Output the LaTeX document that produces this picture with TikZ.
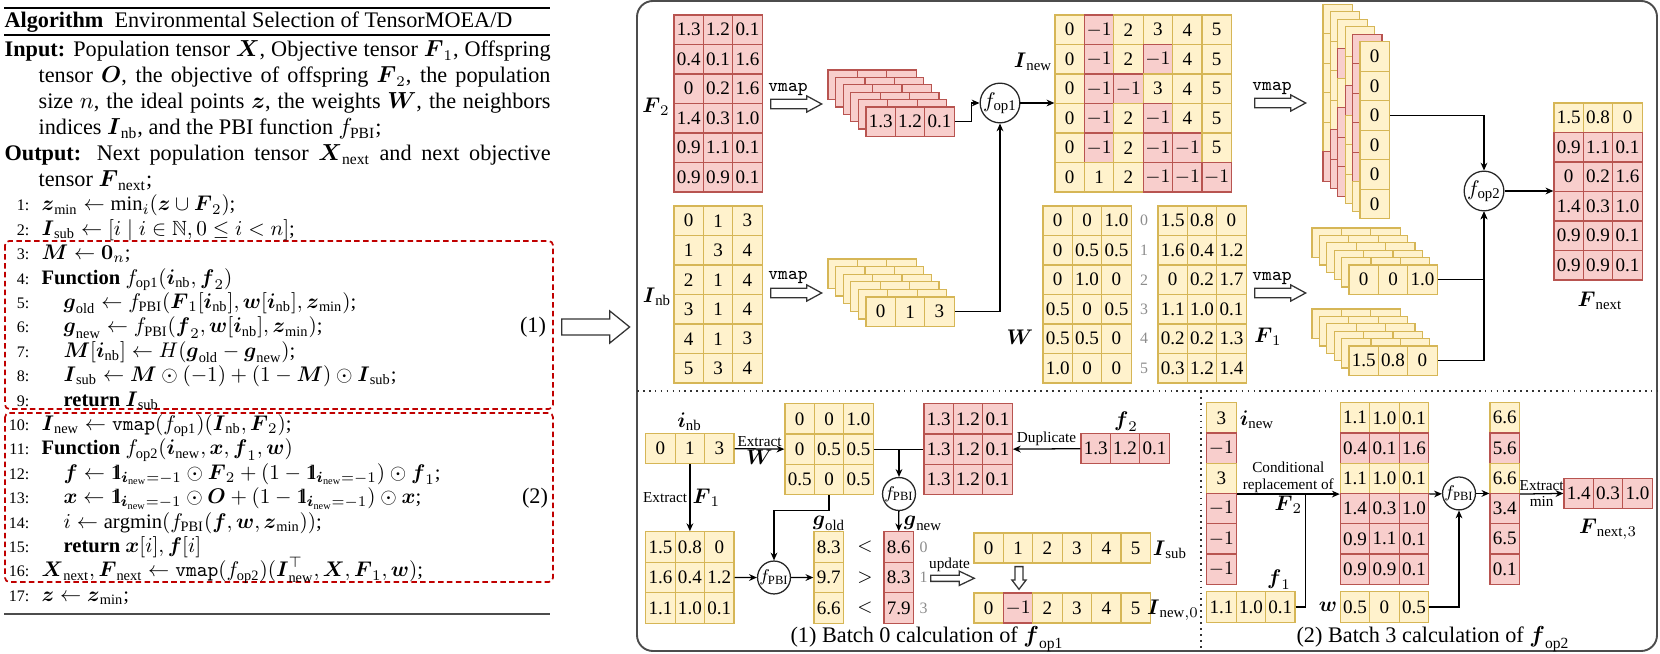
\documentclass[tikz,border=0pt]{standalone}
\usepackage{amsmath}
\usepackage{amssymb}
\usepackage{fontspec}
\setmainfont{Liberation Serif}
\IfFileExists{dsfont.sty}{\usepackage{dsfont}\newcommand{\indone}{\mathds{1}}}{\newcommand{\indone}{\mathrm{1\kern-0.28em l}}}
\usetikzlibrary{shapes.arrows,arrows.meta,calc}

\definecolor{yfill}{HTML}{FFF2CC}
\definecolor{yline}{HTML}{D6B656}
\definecolor{pfill}{HTML}{F8CECC}
\definecolor{pline}{HTML}{B85450}
\definecolor{boxred}{HTML}{C00000}

\tikzset{
  cell/.style={draw=#1line, fill=#1fill, line width=0.6pt, minimum width=13.89pt,
    inner sep=0pt, font=\fontsize{9}{10}\selectfont},
  op/.style={circle, draw=black!85, fill=white, line width=0.6pt, inner sep=0pt},
  hollow/.style={single arrow, draw=black!80, fill=white, line width=0.6pt,
    inner xsep=0pt, anchor=tail},
  lbl/.style={font=\fontsize{7.2}{8}\selectfont, inner sep=1pt},
  mlbl/.style={font=\fontsize{10}{11}\selectfont, inner sep=1pt},
  vm/.style={font=\ttfamily\fontsize{8.8}{10}\selectfont, inner sep=0pt},
  idx/.style={font=\fontsize{7.5}{9}\selectfont, text=black!45, inner sep=0pt},
  capt/.style={font=\fontsize{10.5}{12}\selectfont, inner sep=0pt},
  hdr/.style={font=\fontsize{10.5}{12}\selectfont, anchor=base west, inner sep=0pt},
  alg/.style={font=\fontsize{9.7}{11}\selectfont, anchor=base west, inner sep=0pt},
  num/.style={font=\fontsize{7.6}{9}\selectfont, anchor=base east, inner sep=0pt},
}

% matrix of cells: [cell height]{name}{left}{top}{rows of colour/value}
\newcommand{\tmat}[5][29.5]{%
  \foreach \row [count=\i from 0] in {#5}{%
    \foreach \c/\v [count=\j from 0] in \row{%
      \node[cell=\c, minimum height=#1*0.4723pt] (#2-\i-\j) at (#3+\j*29.4+14.7, #4+\i*#1+#1/2) {\v};
    }
  }
}

\begin{document}
\begin{tikzpicture}[x=0.4723pt, y=-0.4723pt, line width=0.6pt,
  >={Stealth[length=3.7pt,width=3.2pt]}]
\useasboundingbox (0,0) rectangle (1660,654);

%% algorithm
\draw[line width=0.8pt] (4,8) -- (550,8);
\draw[line width=0.5pt] (4,35) -- (550,35);
\draw[line width=0.8pt, black!70] (4,614) -- (550,614);
\draw[boxred, dashed, dash pattern=on 2.6pt off 1.6pt, line width=0.8pt, rounded corners=2pt]
  (5,241) rectangle (553,409);
\draw[boxred, dashed, dash pattern=on 2.6pt off 1.6pt, line width=0.8pt, rounded corners=2pt]
  (5,413) rectangle (553,582);

\node[hdr] (a0) at (4,28) {\textbf{Algorithm}\ \ Environmental Selection of TensorMOEA/D};
\node[hdr] (in1) at (4,57) {\makebox[257.9pt][s]{\textbf{Input:} Population tensor $\boldsymbol{X}$, Objective tensor $\boldsymbol{F}_1$, Offspring}};
\node[hdr] (in2) at (38,83) {\makebox[241.8pt][s]{tensor $\boldsymbol{O}$, the objective of offspring $\boldsymbol{F}_2$, the population}};
\node[hdr] (in3) at (38,109) {\makebox[241.8pt][s]{size $n$, the ideal points $\boldsymbol{z}$, the weights $\boldsymbol{W}$, the neighbors}};
\node[hdr] (in4) at (38,135) {indices $\boldsymbol{I}_{\text{nb}}$, and the PBI function $f_{\text{PBI}}$;};
\node[hdr] (out1) at (4,161) {\makebox[257.9pt][s]{\textbf{Output:} Next population tensor $\boldsymbol{X}_{\text{next}}$ and next objective}};
\node[hdr] (out2) at (38,187) {tensor $\boldsymbol{F}_{\text{next}}$;};

\foreach \k in {1,...,17}
  \node[num] (n\k) at (30,211+\k*24.4-24.4) {\k:};

\node[alg] (l1) at (41,211) {$\boldsymbol{z}_{\min}\leftarrow \min_i(\boldsymbol{z}\cup\boldsymbol{F}_2)$;};
\node[alg] (l2) at (41,235.4) {$\boldsymbol{I}_{\text{sub}}\leftarrow [i\mid i\in\mathbb{N}, 0\le i<n]$;};
\node[alg] (l3) at (41,259.8) {$\boldsymbol{M}\leftarrow \boldsymbol{0}_n$;};
\node[alg] (l4) at (41,284.2) {\textbf{Function} $f_{\text{op1}}(\boldsymbol{i}_{\text{nb}},\boldsymbol{f}_2)$};
\node[alg] (l5) at (63,308.6) {$\boldsymbol{g}_{\text{old}}\leftarrow f_{\text{PBI}}(\boldsymbol{F}_1[\boldsymbol{i}_{\text{nb}}],\boldsymbol{w}[\boldsymbol{i}_{\text{nb}}],\boldsymbol{z}_{\min})$;};
\node[alg] (l6) at (63,333) {$\boldsymbol{g}_{\text{new}}\leftarrow f_{\text{PBI}}(\boldsymbol{f}_2,\boldsymbol{w}[\boldsymbol{i}_{\text{nb}}],\boldsymbol{z}_{\min})$;};
\node[alg] (l7) at (63,357.4) {$\boldsymbol{M}[\boldsymbol{i}_{\text{nb}}]\leftarrow H(\boldsymbol{g}_{\text{old}}-\boldsymbol{g}_{\text{new}})$;};
\node[alg] (l8) at (63,381.8) {$\boldsymbol{I}_{\text{sub}}\leftarrow \boldsymbol{M}\odot(-1)+(1-\boldsymbol{M})\odot\boldsymbol{I}_{\text{sub}}$;};
\node[alg] (l9) at (63,406.2) {\textbf{return} $\boldsymbol{I}_{\text{sub}}$};
\node[alg] (l10) at (41,430.6) {$\boldsymbol{I}_{\text{new}}\leftarrow \texttt{vmap}(f_{\text{op1}})(\boldsymbol{I}_{\text{nb}},\boldsymbol{F}_2)$;};
\node[alg] (l11) at (41,455) {\textbf{Function} $f_{\text{op2}}(\boldsymbol{i}_{\text{new}},\boldsymbol{x},\boldsymbol{f}_1,\boldsymbol{w})$};
\node[alg] (l12) at (63,479.4) {$\boldsymbol{f}\leftarrow \indone_{\boldsymbol{i}_{\text{new}}=-1}\odot\boldsymbol{F}_2+(1-\indone_{\boldsymbol{i}_{\text{new}}=-1})\odot\boldsymbol{f}_1$;};
\node[alg] (l13) at (63,503.8) {$\boldsymbol{x}\leftarrow \indone_{\boldsymbol{i}_{\text{new}}=-1}\odot\boldsymbol{O}+(1-\indone_{\boldsymbol{i}_{\text{new}}=-1})\odot\boldsymbol{x}$;};
\node[alg] (l14) at (63,528.2) {$i\leftarrow \mathrm{argmin}(f_{\text{PBI}}(\boldsymbol{f},\boldsymbol{w},\boldsymbol{z}_{\min}))$;};
\node[alg] (l15) at (63,552.6) {\textbf{return} $\boldsymbol{x}[i],\boldsymbol{f}[i]$};
\node[alg] (l16) at (41,577) {$\boldsymbol{X}_{\text{next}},\boldsymbol{F}_{\text{next}}\leftarrow \texttt{vmap}(f_{\text{op2}})(\boldsymbol{I}_{\text{new}}^{\top},\boldsymbol{X},\boldsymbol{F}_1,\boldsymbol{w})$;};
\node[alg] (l17) at (41,601.4) {$\boldsymbol{z}\leftarrow \boldsymbol{z}_{\min}$;};
\node[hdr, anchor=base] (b1) at (533,333) {(1)};
\node[hdr, anchor=base] (b2) at (535,503.8) {(2)};

\node[hollow, minimum height=32.1pt, inner ysep=3.47pt, single arrow head extend=3.85pt,
  single arrow tip angle=78] (big) at (561,327) {};

%% panel
\draw[black!70, line width=0.9pt, rounded corners=7.5pt] (637,1) rectangle (1657,651);
\draw[black!80, dotted, line width=0.8pt] (637,391) -- (1657,391);
\draw[black!80, dotted, line width=0.8pt] (1201,391) -- (1201,651);

%% top part
\tmat{F2}{674}{15}{{p/1.3,p/1.2,p/0.1},{p/0.4,p/0.1,p/1.6},{p/0,p/0.2,p/1.6},
  {p/1.4,p/0.3,p/1.0},{p/0.9,p/1.1,p/0.1},{p/0.9,p/0.9,p/0.1}}
\node[mlbl] (F2l) at (656,107) {$\boldsymbol{F}_2$};
\node[vm] (vm1) at (788,89) {vmap};
\node[hollow, minimum height=24.1pt, inner ysep=1.95pt, single arrow head extend=1.6pt,
  single arrow tip angle=57] (va1) at (770,104) {};
\foreach \k in {0,...,4}{
  \tmat{F2s\k}{828+7.6*\k}{70+7.4*\k}{{p/{},p/{},p/{}}}
}
\tmat{F2s5}{866}{107}{{p/1.3,p/1.2,p/0.1}}

\tmat{Inb}{674}{206}{{y/0,y/1,y/3},{y/1,y/3,y/4},{y/2,y/1,y/4},
  {y/3,y/1,y/4},{y/4,y/1,y/3},{y/5,y/3,y/4}}
\node[mlbl] (Inbl) at (657,297) {$\boldsymbol{I}_{\text{nb}}$};
\node[vm] (vm3) at (788,277) {vmap};
\node[hollow, minimum height=24.1pt, inner ysep=1.95pt, single arrow head extend=1.6pt,
  single arrow tip angle=57] (va3) at (770,293) {};
\foreach \k in {0,...,4}{
  \tmat{Inbs\k}{828+7.6*\k}{259+7.6*\k}{{y/{},y/{},y/{}}}
}
\tmat{Inbs5}{866}{297}{{y/0,y/1,y/3}}

\node[op, minimum size=18pt, font=\fontsize{10}{11}\selectfont] (fop1) at (1000,103) {$f_{\text{op1}}$};
\draw[->] (F2s5-0-2.east) -- ++(17,0) |- (fop1);
\draw[->] (Inbs5-0-2.east) -| (fop1);

\tmat{Inew}{1055}{15}{{y/0,p/$-1$,y/2,y/3,y/4,y/5},{y/0,p/$-1$,y/2,p/$-1$,y/4,y/5},
  {y/0,p/$-1$,p/$-1$,y/3,y/4,y/5},{y/0,p/$-1$,y/2,p/$-1$,y/4,y/5},
  {y/0,p/$-1$,y/2,p/$-1$,p/$-1$,y/5},{y/0,y/1,y/2,p/$-1$,p/$-1$,p/$-1$}}
\node[mlbl] (Inewl) at (1033,62) {$\boldsymbol{I}_{\text{new}}$};
\draw[->] (fop1) -- (fop1 -| Inew-3-0.north west);
\node[vm] (vm2) at (1272,88) {vmap};
\node[hollow, minimum height=24.1pt, inner ysep=1.95pt, single arrow head extend=1.6pt,
  single arrow tip angle=57] (va2) at (1254,103) {};

% columns of I_new, one behind the other
\tmat{Ins0}{1323}{4.3}{{y/{}},{y/{}},{y/{}},{y/{}},{y/{}},{p/{}}}
\tmat{Ins1}{1330.4}{11.8}{{y/{}},{y/{}},{y/{}},{y/{}},{p/{}},{p/{}}}
\tmat{Ins2}{1337.8}{19.3}{{y/{}},{p/{}},{y/{}},{p/{}},{p/{}},{p/{}}}
\tmat{Ins3}{1345.2}{26.8}{{y/{}},{y/{}},{p/{}},{y/{}},{y/{}},{y/{}}}
\tmat{Ins4}{1352.6}{34.3}{{p/{}},{p/{}},{p/{}},{p/{}},{p/{}},{y/{}}}
\tmat{Ins5}{1360}{41.8}{{y/0},{y/0},{y/0},{y/0},{y/0},{y/0}}

\tmat{W}{1043}{206}{{y/0,y/0,y/1.0},{y/0,y/0.5,y/0.5},{y/0,y/1.0,y/0},
  {y/0.5,y/0,y/0.5},{y/0.5,y/0.5,y/0},{y/1.0,y/0,y/0}}
\node[mlbl] (Wl) at (1020,337) {$\boldsymbol{W}$};
\foreach \r in {0,...,5}
  \node[idx] (ix\r) at (1144,220.75+\r*29.5) {\r};
\tmat{F1}{1158}{206}{{y/1.5,y/0.8,y/0},{y/1.6,y/0.4,y/1.2},{y/0,y/0.2,y/1.7},
  {y/1.1,y/1.0,y/0.1},{y/0.2,y/0.2,y/1.3},{y/0.3,y/1.2,y/1.4}}
\node[mlbl] (F1l) at (1268,337) {$\boldsymbol{F}_1$};
\node[vm] (vm4) at (1272,278) {vmap};
\node[hollow, minimum height=24.1pt, inner ysep=1.95pt, single arrow head extend=1.6pt,
  single arrow tip angle=57] (va4) at (1254,293) {};
\foreach \k in {0,...,4}{
  \tmat{Ws\k}{1312+7.4*\k}{228+7.4*\k}{{y/{},y/{},y/{}}}
  \tmat{F1s\k}{1312+7.4*\k}{309+7.4*\k}{{y/{},y/{},y/{}}}
}
\tmat{Ws5}{1349}{265}{{y/0,y/0,y/1.0}}
\tmat{F1s5}{1349}{346}{{y/1.5,y/0.8,y/0}}

\node[op, minimum size=18pt, font=\fontsize{10}{11}\selectfont] (fop2) at (1484,191) {$f_{\text{op2}}$};
\draw[->] (Ins5-2-0.east) -| (fop2);
\draw[->] (Ws5-0-2.east) -| (fop2);
\draw[->] (F1s5-0-2.east) -| (fop2);
\tmat{Fnext}{1554}{103}{{y/1.5,y/0.8,y/0},{p/0.9,p/1.1,p/0.1},{p/0,p/0.2,p/1.6},
  {p/1.4,p/0.3,p/1.0},{p/0.9,p/0.9,p/0.1},{p/0.9,p/0.9,p/0.1}}
\draw[->] (fop2) -- (fop2 -| Fnext-3-0.north west);
\node[mlbl] (Fnextl) at (1600,301) {$\boldsymbol{F}_{\text{next}}$};

%% (1) batch 0 of f_op1
\tmat[30]{inb}{645.8}{433.7}{{y/0,y/1,y/3}}
\node[mlbl] (inbl) at (689.5,421.6) {$\boldsymbol{i}_{\text{nb}}$};
\tmat[30.3]{Wsub}{785}{403.7}{{y/0,y/0,y/1.0},{y/0,y/0.5,y/0.5},{y/0.5,y/0,y/0.5}}
\tmat[30.3]{fdup}{924}{403.7}{{p/1.3,p/1.2,p/0.1},{p/1.3,p/1.2,p/0.1},{p/1.3,p/1.2,p/0.1}}
\tmat[30]{ftwo}{1081}{433.7}{{p/1.3,p/1.2,p/0.1}}
\node[mlbl] (ftwol) at (1126,421.6) {$\boldsymbol{f}_2$};
\draw[->] (inb-0-2.east) -- node[lbl, above] (ex1) {Extract}
  node[mlbl, below, inner sep=0pt] (ex1w) {$\boldsymbol{W}$} (Wsub-1-0.west);
\draw (Wsub-1-2.east) -- (fdup-1-0.west);
\draw[->] (ftwo-0-0.west) -- node[lbl, above] (dup) {Duplicate} (fdup-1-2.east);

\node[op, minimum size=14.2pt, font=\fontsize{8.5}{10}\selectfont] (fPBIn) at (899,494) {$f_{\text{PBI}}$};
\draw[->] (Wsub-1-2.east -| fPBIn) -- (fPBIn);

\tmat[30.5]{Fsub}{645.8}{531.8}{{y/1.5,y/0.8,y/0},{y/1.6,y/0.4,y/1.2},{y/1.1,y/1.0,y/0.1}}
\draw[->] (inb-0-1.south) -- node[lbl, left] (ex2) {Extract}
  node[mlbl, right] (ex2f) {$\boldsymbol{F}_1$} (Fsub-0-1.north);
\node[op, minimum size=14.2pt, font=\fontsize{8.5}{10}\selectfont] (fPBIo) at (774,577.5) {$f_{\text{PBI}}$};
\draw[->] (Fsub-1-2.east) -- (fPBIo);
\draw[->] (Wsub-2-1.south) -- ++(0,15) -| (fPBIo);

\tmat[30.5]{gold}{814}{531.8}{{y/8.3},{y/9.7},{y/6.6}}
\node[mlbl] (goldl) at (829,523) {$\boldsymbol{g}_{\text{old}}$};
\draw[->] (fPBIo) -- (gold-1-0.west);
\tmat[30.5]{gnew}{884}{531.8}{{p/8.6},{p/8.3},{p/7.9}}
\node[mlbl] (gnewl) at (923,523) {$\boldsymbol{g}_{\text{new}}$};
\draw[->] (fPBIn) -- (gnew-0-0.north);
\foreach \s/\r/\q in {</0/0,>/1/1,</2/3}{
  \node[font=\fontsize{9}{10}\selectfont, inner sep=0pt] (cmp\r) at (865,547.05+\r*30.5) {$\s$};
  \node[idx] (gi\r) at (923.7,547.05+\r*30.5) {\q};
}

\node[lbl] (upd) at (949.5,565) {update};
\node[hollow, minimum height=20.6pt, inner ysep=1.15pt, single arrow head extend=1.95pt,
  single arrow tip angle=51] (va5) at (930,578.3) {};
\tmat[30]{Isub}{974}{533}{{y/0,y/1,y/2,y/3,y/4,y/5}}
\node[mlbl] (Isubl) at (1170,550) {$\boldsymbol{I}_{\text{sub}}$};
\node[hollow, rotate=-90, minimum height=10.7pt, inner ysep=1.6pt, single arrow head extend=1.5pt,
  single arrow tip angle=75] (va6) at (1019,566) {};
\tmat[30]{Inew0}{974}{593}{{y/0,p/$-1$,y/2,y/3,y/4,y/5}}
\node[mlbl] (Inew0l) at (1173,610) {$\boldsymbol{I}_{\text{new},0}$};
\node[capt] (cap1) at (927,639) {(1) Batch 0 calculation of $\boldsymbol{f}_{\text{op1}}$};

%% (2) batch 3 of f_op2
\tmat[30.25]{inew}{1206.8}{402.7}{{y/3},{p/$-1$},{y/3},{p/$-1$},{p/$-1$},{p/$-1$}}
\node[mlbl] (inewl) at (1257,420) {$\boldsymbol{i}_{\text{new}}$};
\tmat[30.25]{Fsel}{1340.4}{402.7}{{y/1.1,y/1.0,y/0.1},{p/0.4,p/0.1,p/1.6},{y/1.1,y/1.0,y/0.1},
  {p/1.4,p/0.3,p/1.0},{p/0.9,p/1.1,p/0.1},{p/0.9,p/0.9,p/0.1}}
\draw[->] (inew-2-0.south east) -- node[lbl, above, align=center, inner sep=0.5pt] (cr) {Conditional\\replacement of}
  node[mlbl, below, inner sep=0.5pt] (crf) {$\boldsymbol{F}_2$} (inew-2-0.south east -| Fsel-0-0.west);
\tmat[31]{fone}{1206.8}{591.4}{{y/1.1,y/1.0,y/0.1}}
\node[mlbl] (fonel) at (1279,580) {$\boldsymbol{f}_1$};
\draw (fone-0-2.east) -- ++(10,0) coordinate (fk) -- (fk |- inew-2-0.south east);
\tmat[31]{wrow}{1340.4}{591.4}{{y/0.5,y/0,y/0.5}}
\node[mlbl] (wrowl) at (1328,607) {$\boldsymbol{w}$};

\node[op, minimum size=14.2pt, font=\fontsize{8.5}{10}\selectfont] (fPBI3) at (1459,493.45) {$f_{\text{PBI}}$};
\draw[->] (Fsel-2-2.south east) -- (fPBI3);
\draw[->] (wrow-0-2.east) -| (fPBI3);
\tmat[30.25]{gsel}{1490}{402.7}{{y/6.6},{p/5.6},{y/6.6},{p/3.4},{p/6.5},{p/0.1}}
\draw[->] (fPBI3) -- (fPBI3 -| gsel-0-0.west);
\tmat[30.6]{Fn3}{1564}{478.15}{{p/1.4,p/0.3,p/1.0}}
\draw[->] (gsel-2-0.south east) -- node[lbl, above] (exm) {Extract}
  node[lbl, below] (exmin) {min} (Fn3-0-0.west);
\node[mlbl] (Fn3l) at (1608,529) {$\boldsymbol{F}_{\text{next},3}$};
\node[capt] (cap2) at (1433,639) {(2) Batch 3 calculation of $\boldsymbol{f}_{\text{op2}}$};
\end{tikzpicture}
\end{document}
